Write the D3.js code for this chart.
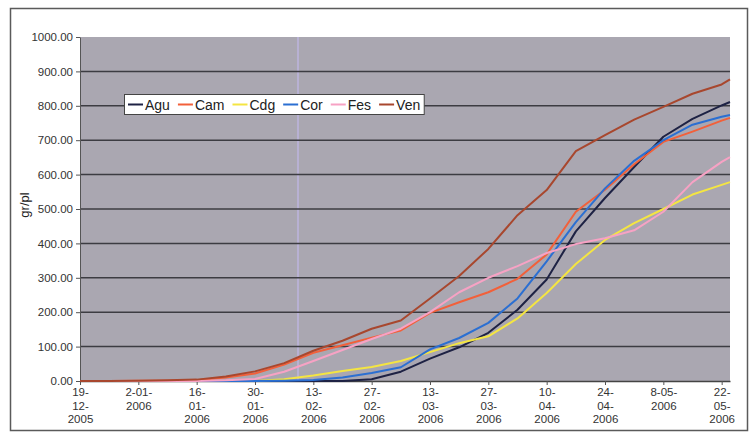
<!DOCTYPE html>
<html>
<head>
<meta charset="utf-8">
<script src="https://cdn.jsdelivr.net/npm/d3@7"></script>
<style>
  body { margin: 0; background: #fff; }
  svg text { font-family: "Liberation Sans", Arial, sans-serif; }
</style>
</head>
<body>
<div id="chart"></div>
<script>
let width = 754;
let height = 432;

// weekly readings, gr/pl
let dates = ["2005-12-19","2005-12-26","2006-01-02","2006-01-09","2006-01-16","2006-01-23","2006-01-30",
             "2006-02-06","2006-02-13","2006-02-20","2006-02-27","2006-03-06","2006-03-13","2006-03-20",
             "2006-03-27","2006-04-03","2006-04-10","2006-04-17","2006-04-24","2006-05-01","2006-05-08",
             "2006-05-15","2006-05-22","2006-05-24"];

let agu = [0,0,0,0,0,0,0,0,0,0,5,27,65,98,140,207,295,435,532,622,710,762,801,811];
let cam = [0,0,1,1,2,10,22,48,82,104,126,147,198,229,258,297,368,492,556,630,695,725,757,765];
let cdg = [0,0,0,0,0,0,0,5,16,29,41,58,84,110,130,182,256,340,410,459,500,542,570,578];
let cor = [0,0,0,0,0,0,0,1,3,10,23,40,92,125,169,240,348,462,560,640,700,745,768,773];
let fes = [0,0,0,0,0,2,6,27,58,90,122,152,200,258,300,334,372,398,415,438,492,578,637,651];
let ven = [0,0,1,2,4,13,28,52,88,117,152,176,240,305,384,482,555,668,715,760,797,835,862,877];

let seriesNames = ["Agu","Cam","Cdg","Cor","Fes","Ven"];
let seriesValues = [agu, cam, cdg, cor, fes, ven];
let seriesColors = ["#1e2244","#f2603a","#f4e542","#2b6fd2","#f7a2c4","#a8472e"];

let tickDates = ["2005-12-19","2006-01-02","2006-01-16","2006-01-30","2006-02-13","2006-02-27",
                 "2006-03-13","2006-03-27","2006-04-10","2006-04-24","2006-05-08","2006-05-22"];
let tickLabels = [["19-","12-","2005"],["2-01-","2006"],["16-","01-","2006"],["30-","01-","2006"],
                  ["13-","02-","2006"],["27-","02-","2006"],["13-","03-","2006"],["27-","03-","2006"],
                  ["10-","04-","2006"],["24-","04-","2006"],["8-05-","2006"],["22-","05-","2006"]];
let yTicks = [0,100,200,300,400,500,600,700,800,900,1000];

let parseDate = d3.timeParse("%Y-%m-%d");

let plotLeft = 80, plotRight = 730, plotTop = 37, plotBottom = 381;

let svg = d3.select("#chart").append("svg")
    .attr("width", width)
    .attr("height", height);

// outer frame
svg.append("rect")
    .attr("x", 10.5).attr("y", 8.5)
    .attr("width", 737).attr("height", 422)
    .attr("fill", "none")
    .attr("stroke", "#5a5a5a")
    .attr("stroke-width", 1.5);

let xScale = d3.scaleTime()
    .domain([parseDate("2005-12-19"), parseDate("2006-05-24")])
    .range([plotLeft, plotRight]);

let yScale = d3.scaleLinear()
    .domain([0, 1000])
    .range([plotBottom, plotTop]);

// plot background
svg.append("rect")
    .attr("x", plotLeft).attr("y", plotTop)
    .attr("width", plotRight - plotLeft).attr("height", plotBottom - plotTop)
    .attr("fill", "#aaa7b1");

// faint scan streak
svg.append("line")
    .attr("x1", 298).attr("x2", 298)
    .attr("y1", plotTop).attr("y2", plotBottom)
    .attr("stroke", "#bcb4dc")
    .attr("stroke-width", 2)
    .attr("opacity", 0.8);

// gridlines
svg.append("g").selectAll("line")
    .data(yTicks.filter(d => d > 0 && d < 1000))
    .enter().append("line")
    .attr("x1", plotLeft).attr("x2", plotRight)
    .attr("y1", d => yScale(d)).attr("y2", d => yScale(d))
    .attr("stroke", "#3c3c42")
    .attr("stroke-width", 1.5);

// y axis
let yAxis = d3.axisLeft(yScale).tickValues(yTicks).tickFormat(d3.format(".2f"))
    .tickSize(4).tickSizeOuter(0).tickPadding(3);
let yAxisGroup = svg.append("g").attr("transform", "translate(" + plotLeft + ",0)").call(yAxis);
yAxisGroup.selectAll("text").attr("font-size", "11.5px").attr("fill", "#333");
yAxisGroup.selectAll("line, path").attr("stroke", "#555");

// x axis
let xAxis = d3.axisBottom(xScale).tickValues(tickDates.map(parseDate)).tickFormat("")
    .tickSize(4).tickSizeOuter(0);
let xAxisGroup = svg.append("g").attr("transform", "translate(0," + plotBottom + ")").call(xAxis);
xAxisGroup.selectAll("line").attr("stroke", "#555");
xAxisGroup.select("path").attr("stroke", "#444").attr("stroke-width", 1.5);

xAxisGroup.selectAll(".tick").each(function(d, i) {
    let t = d3.select(this).append("text")
        .attr("text-anchor", "middle")
        .attr("font-size", "11.5px")
        .attr("fill", "#333");
    tickLabels[i].forEach(function(s, j) {
        t.append("tspan").attr("x", 0).attr("y", 15 + j * 13.5).text(s);
    });
});

// y axis title
svg.append("text")
    .attr("transform", "translate(29,205) rotate(-90)")
    .attr("text-anchor", "middle")
    .attr("font-size", "13px")
    .attr("fill", "#222")
    .text("gr/pl");

// series lines
let line = d3.line()
    .x((d, i) => xScale(parseDate(dates[i])))
    .y(d => yScale(d));

svg.append("g").selectAll("path")
    .data(seriesValues)
    .enter().append("path")
    .attr("d", d => line(d))
    .attr("fill", "none")
    .attr("stroke", (d, i) => seriesColors[i])
    .attr("stroke-width", 2)
    .attr("stroke-linejoin", "round");

// legend
let legend = svg.append("g");
let legendBox = legend.append("rect")
    .attr("x", 124.5).attr("y", 94.5)
    .attr("height", 20)
    .attr("fill", "#fff")
    .attr("stroke", "#444")
    .attr("stroke-width", 1);

let lx = 128;
seriesNames.forEach(function(name, i) {
    legend.append("line")
        .attr("x1", lx).attr("x2", lx + 15)
        .attr("y1", 104.5).attr("y2", 104.5)
        .attr("stroke", seriesColors[i])
        .attr("stroke-width", 2);
    let txt = legend.append("text")
        .attr("x", lx + 17).attr("y", 109.5)
        .attr("font-size", "14px")
        .attr("fill", "#222")
        .text(name);
    lx = lx + 17 + txt.node().getComputedTextLength() + 8;
});
legendBox.attr("width", lx - 8 + 4 - 124.5);
</script>
</body>
</html>
